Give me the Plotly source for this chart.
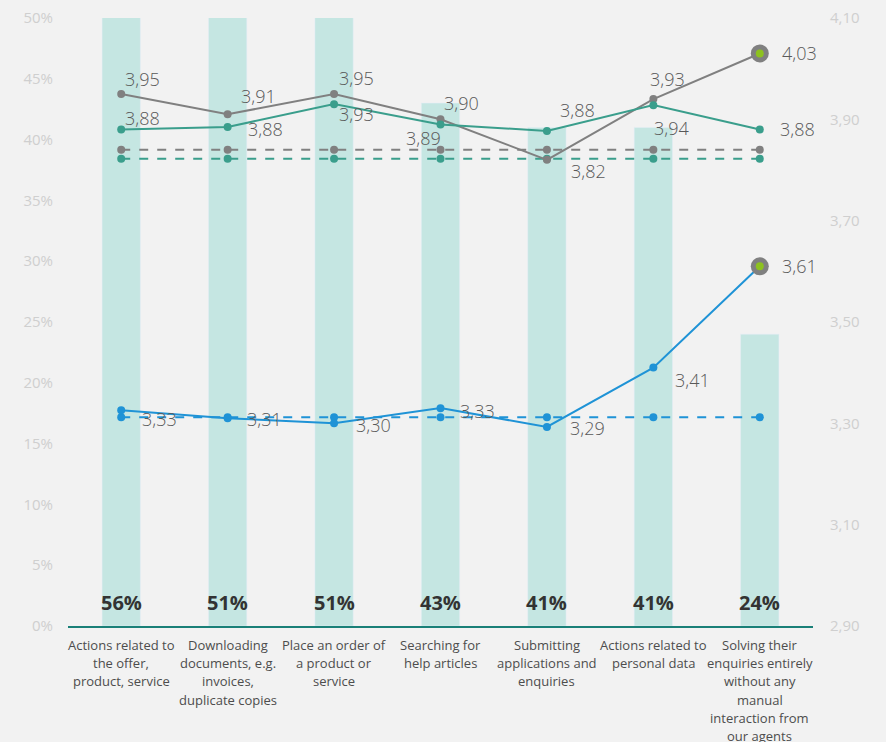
import plotly.graph_objects as go

categories = [
    "Actions related to<br>the offer,<br>product, service",
    "Downloading<br>documents, e.g.<br>invoices,<br>duplicate copies",
    "Place an order of<br>a product or<br>service",
    "Searching for<br>help articles",
    "Submitting<br>applications and<br>enquiries",
    "Actions related to<br>personal data",
    "Solving their<br>enquiries entirely<br>without any<br>manual<br>interaction from<br>our agents",
]
bar_pct = [56, 51, 51, 43, 41, 41, 24]
gray_vals = [3.95, 3.91, 3.95, 3.90, 3.82, 3.94, 4.03]
gray_labels = ["3,95", "3,91", "3,95", "3,90", "3,82", "3,93", "4,03"]
teal_vals = [3.88, 3.885, 3.93, 3.89, 3.877, 3.928, 3.88]
teal_labels = ["3,88", "3,88", "3,93", "3,89", "3,88", "3,94", "3,88"]
blue_vals = [3.326, 3.31, 3.30, 3.33, 3.293, 3.41, 3.61]
blue_labels = ["3,33", "3,31", "3,30", "3,33", "3,29", "3,41", "3,61"]
gray_avg = 3.84
teal_avg = 3.822
blue_avg = 3.312
left_ticks = [0, 5, 10, 15, 20, 25, 30, 35, 40, 45, 50]
right_ticks = [2.90, 3.10, 3.30, 3.50, 3.70, 3.90, 4.10]

# label offsets (pixels)
gray_off = [(21, -15), (31, -18), (22, -16), (21, -16), (42, 11), (14, -20), (40, 0)]
teal_off = [(21, -11), (38, 2), (22, 10), (-17, 14), (31, -21), (18, 23), (38, 0)]
blue_off = [(38, 9), (37, 1), (39, 2), (37, 3), (41, 1), (39, 12), (40, 0)]

GRAY = "#808080"
TEAL = "#3a9e8c"
BLUE = "#1f93d6"
BAR = "#c5e6e2"
BG = "#f2f2f2"

x = list(range(len(categories)))
fig = go.Figure()
fig.add_trace(go.Bar(x=x, y=bar_pct, marker_color=BAR, width=0.36, yaxis="y", hoverinfo="skip"))

def dashed(val, color):
    fig.add_trace(go.Scatter(x=x, y=[val] * len(x), yaxis="y2", mode="lines+markers",
                             line=dict(color=color, width=2, dash="dash"),
                             marker=dict(size=8, color=color)))

dashed(gray_avg, GRAY)
dashed(teal_avg, TEAL)
dashed(blue_avg, BLUE)

for vals, color in [(gray_vals, GRAY), (teal_vals, TEAL), (blue_vals, BLUE)]:
    fig.add_trace(go.Scatter(x=x, y=vals, yaxis="y2", mode="lines+markers",
                             line=dict(color=color, width=2),
                             marker=dict(size=8, color=color)))

# highlighted last points
for vals in [gray_vals, blue_vals]:
    fig.add_trace(go.Scatter(x=[x[-1]], y=[vals[-1]], yaxis="y2", mode="markers",
                             marker=dict(size=18, color=GRAY)))
    fig.add_trace(go.Scatter(x=[x[-1]], y=[vals[-1]], yaxis="y2", mode="markers",
                             marker=dict(size=8, color="#8dc21f")))

annotations = []
for vals, labels, offs in [(gray_vals, gray_labels, gray_off),
                           (teal_vals, teal_labels, teal_off),
                           (blue_vals, blue_labels, blue_off)]:
    for i, (v, t, o) in enumerate(zip(vals, labels, offs)):
        annotations.append(dict(x=i, y=v, xref="x", yref="y2", text=t, showarrow=False,
                                xshift=o[0], yshift=-o[1],
                                font=dict(family="Open Sans", size=18, color="#595959",
                                          weight=300)))
for i, p in enumerate(bar_pct):
    annotations.append(dict(x=i, y=0, xref="x", yref="y", text=f"<b>{p}%</b>", showarrow=False,
                            yshift=24, font=dict(family="Open Sans", size=20, color="#333333")))

# category labels, one annotation per line for the original line spacing
for i, cat in enumerate(categories):
    for j, line in enumerate(cat.split("<br>")):
        annotations.append(dict(x=i, y=0, xref="x", yref="paper", text=line, showarrow=False,
                                yanchor="middle", yshift=-(19 + 18.2 * j),
                                font=dict(family="Open Sans", size=13, color="#4d4d4d")))

fig.update_layout(
    width=886, height=742,
    paper_bgcolor=BG, plot_bgcolor=BG,
    margin=dict(l=68, r=73, t=18, b=116, autoexpand=False),
    showlegend=False,
    font=dict(family="Open Sans"),
    annotations=annotations,
    xaxis=dict(tickvals=x, showticklabels=False, range=[-0.5, 6.5],
               automargin=False,
               showline=True, linecolor="#1a8078", linewidth=2,
               ticks="", showgrid=False, zeroline=False),
    yaxis=dict(range=[0, 50], tickvals=left_ticks, ticktext=[f"{t}%" for t in left_ticks],
               showgrid=False, zeroline=False, tickfont=dict(size=15, color="#cfcfcf"),
               ticklabelstandoff=14, automargin=False),
    yaxis2=dict(range=[2.90, 4.10], overlaying="y", side="right", tickvals=right_ticks,
                ticktext=[f"{t:.2f}".replace(".", ",") for t in right_ticks],
                showgrid=False, zeroline=False, tickfont=dict(size=15, color="#cfcfcf"),
                ticklabelstandoff=16, automargin=False),
)
fig.write_html("out.html", config={"displayModeBar": False},
               post_script="document.body.style.margin='0';")
